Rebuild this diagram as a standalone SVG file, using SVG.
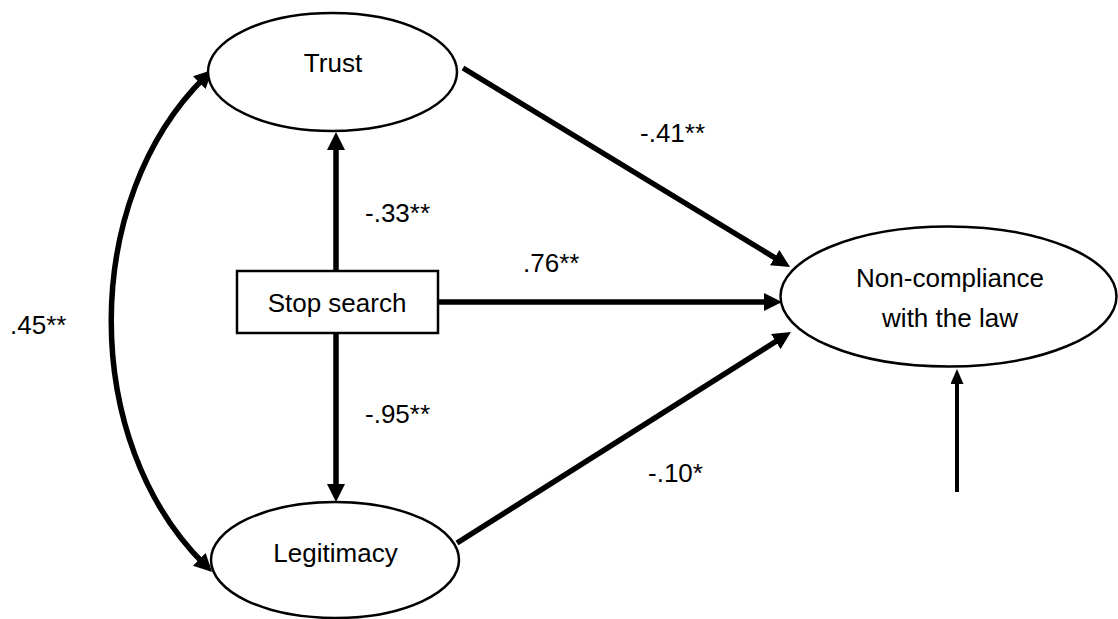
<svg xmlns="http://www.w3.org/2000/svg" width="1118" height="619" viewBox="0 0 1118 619">
<style>
.node{fill:#fff;stroke:#000;stroke-width:2.5}
.t{font-family:"Liberation Sans",Arial,sans-serif;font-size:26px;fill:#000;text-anchor:middle}
.l{font-family:"Liberation Sans",Arial,sans-serif;font-size:26px;fill:#000}
.c{fill:none;stroke:#000;stroke-width:5.5}
.c2{fill:none;stroke:#000;stroke-width:4}
</style>
<defs>
<marker id="ah" markerUnits="userSpaceOnUse" markerWidth="18" markerHeight="18" refX="8" refY="9" orient="auto-start-reverse" viewBox="0 0 18 18">
<path d="M0,0 L18,9 L0,18 z" fill="#000"/>
</marker>
<marker id="ahs" markerUnits="userSpaceOnUse" markerWidth="15" markerHeight="13" refX="7" refY="6.5" orient="auto" viewBox="0 0 15 13">
<path d="M0,0 L15,6.5 L0,13 z" fill="#000"/>
</marker>
</defs>
<rect width="1118" height="619" fill="#fff"/>
<g id="connectors">
<path class="c" d="M205,77 C80,200 80,442 205,565" marker-start="url(#ah)" marker-end="url(#ah)"/>
<line class="c" x1="336" y1="271" x2="336" y2="142" marker-end="url(#ah)"/>
<line class="c" x1="336" y1="334" x2="336" y2="492" marker-end="url(#ah)"/>
<line class="c" x1="438" y1="302" x2="772" y2="302" marker-end="url(#ah)"/>
<line class="c" x1="463" y1="68" x2="781.5" y2="261.8" marker-end="url(#ah)"/>
<line class="c" x1="457" y1="543" x2="782.5" y2="337.3" marker-end="url(#ah)"/>
<line class="c2" x1="957" y1="492" x2="957" y2="377" marker-end="url(#ahs)"/>
</g>
<g id="trust">
<ellipse class="node" cx="332.5" cy="72" rx="124.5" ry="59"/>
<text class="t" x="333" y="72">Trust</text>
</g>
<g id="legitimacy">
<ellipse class="node" cx="335" cy="560" rx="124" ry="58"/>
<text class="t" x="335.5" y="562">Legitimacy</text>
</g>
<g id="stopsearch">
<rect class="node" x="237" y="271" width="201" height="62"/>
<text class="t" x="337" y="312">Stop search</text>
</g>
<g id="noncompliance">
<ellipse class="node" cx="948.5" cy="296.5" rx="168" ry="70"/>
<text class="t" x="950" y="287">Non-compliance</text>
<text class="t" x="950" y="327">with the law</text>
</g>
<g id="labels">
<text class="l" x="640" y="142">-.41**</text>
<text class="l" x="365" y="222">-.33**</text>
<text class="l" x="523" y="272">.76**</text>
<text class="l" x="365" y="423">-.95**</text>
<text class="l" x="648" y="482">-.10*</text>
<text class="l" x="10" y="334">.45**</text>
</g>
</svg>
